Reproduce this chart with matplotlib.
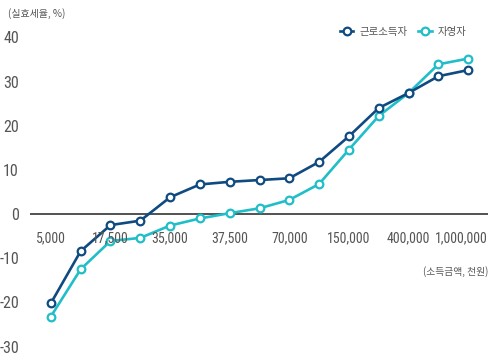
import matplotlib
matplotlib.use("Agg")
import matplotlib.pyplot as plt
import numpy as np

# ---- data ----
income_labels = ["5,000", "17,500", "35,000", "37,500", "70,000",
                 "150,000", "400,000", "1,000,000"]
label_positions = [0, 2, 4, 6, 8, 10, 12, 14]
n_points = 15
wage_earners = [-20.2, -8.4, -2.5, -1.5, 3.8, 6.7, 7.3, 7.7, 8.1,
                11.8, 17.6, 24.0, 27.4, 31.2, 32.6]
self_employed = [-23.2, -12.5, -6.1, -5.4, -2.6, -1.0, 0.2, 1.3, 3.2,
                 6.8, 14.6, 22.2, 27.4, 33.9, 35.2]
y_ticks = [40, 30, 20, 10, 0, -10, -20, -30]
series_names = ["근로소득자", "자영자"]

NAVY = "#0f4a80"
TEAL = "#1fbec8"
GRAY = "#555555"
NUM_FONT = ["Roboto Condensed", "Liberation Sans Narrow", "DejaVu Sans"]
KR_FONT = ["Noto Sans CJK KR", "DejaVu Sans"]

fig = plt.figure(figsize=(4.89, 3.6), dpi=100)
ax = fig.add_axes([30 / 489, 0.0067, 459 / 489, 0.914])

x = np.arange(n_points)
ax.axhline(0, color="#444444", lw=1.3, zorder=1)
ax.plot(x, wage_earners, color=NAVY, lw=1.9, marker="o", ms=5.5,
        mfc="white", mec=NAVY, mew=1.6, label=series_names[0], zorder=3)
ax.plot(x, self_employed, color=TEAL, lw=1.9, marker="o", ms=5.5,
        mfc="white", mec=TEAL, mew=1.6, label=series_names[1], zorder=2)

ax.set_xlim(-0.7, 14.7)
ax.set_ylim(-32.5, 42)
for s in ax.spines.values():
    s.set_visible(False)
ax.set_xticks([])
ax.set_yticks(y_ticks)
ax.set_yticklabels([str(v) for v in y_ticks], family=NUM_FONT,
                   fontsize=11.5, color=GRAY, fontstretch="condensed")
ax.tick_params(axis="y", length=0, pad=8)

last = len(income_labels) - 1
for i, (pos, lab) in enumerate(zip(label_positions, income_labels)):
    if i == last:
        ax.text(0.998, -5.4, lab, ha="right", va="center", fontsize=10,
                family=NUM_FONT, color=GRAY, fontstretch="condensed",
                transform=ax.get_yaxis_transform())
    else:
        ax.text(pos, -5.4, lab, ha="center", va="center", fontsize=10,
                family=NUM_FONT, color=GRAY, fontstretch="condensed")

fig.text(8 / 489, 1 - 14 / 360, "(실효세율, %)", ha="left", va="center",
         fontsize=7.2, family=KR_FONT, color=GRAY)
fig.text(488 / 489, 1 - 272 / 360, "(소득금액, 천원)", ha="right",
         va="center", fontsize=7, family=KR_FONT, color=GRAY)

leg = ax.legend(loc="center right",
                bbox_to_anchor=((471 - 30) / 459, 1 - (30 - 28.4) / 329 - 0.005),
                ncol=2, frameon=False, handlelength=1.3, handletextpad=0.6,
                columnspacing=1.0, borderaxespad=0.0,
                prop={"family": KR_FONT, "size": 7.5})
for t in leg.get_texts():
    t.set_color(GRAY)

fig.savefig("out.png", dpi=100)
